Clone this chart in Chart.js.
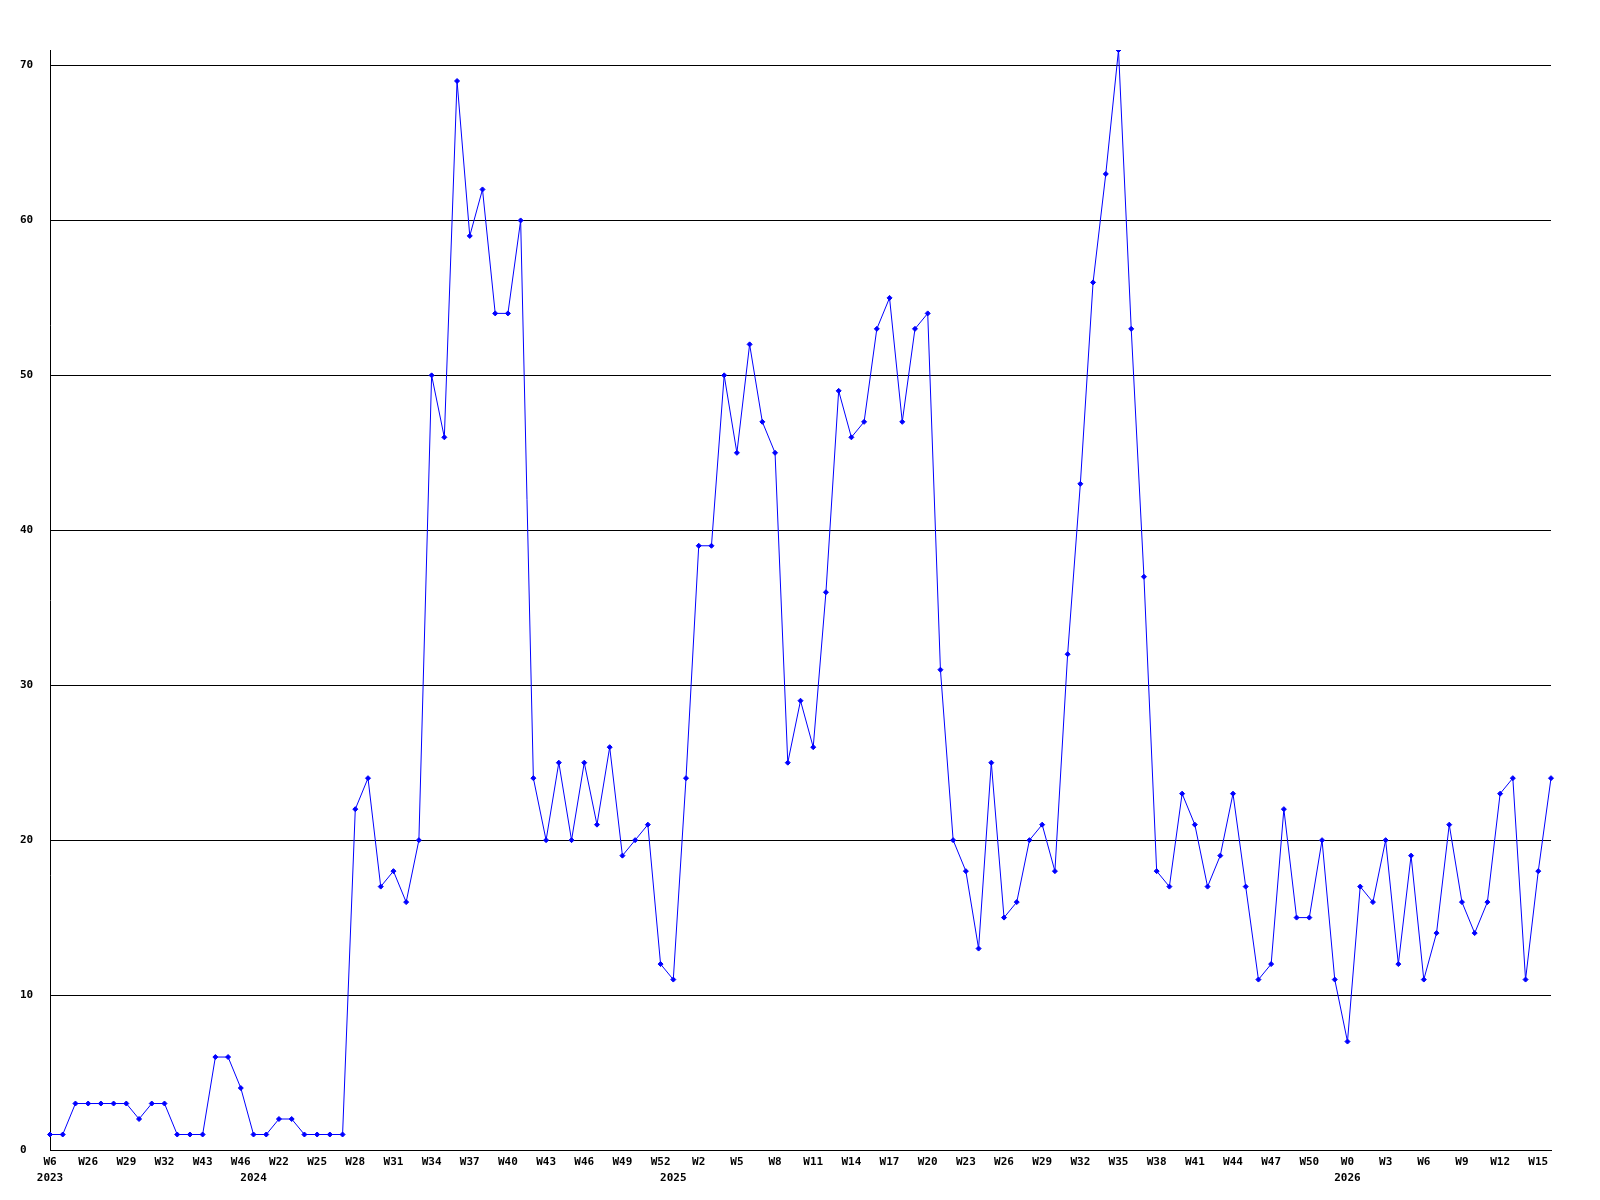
<!DOCTYPE html>
<html>
<head>
<meta charset="utf-8">
<script src="https://cdn.jsdelivr.net/npm/chart.js@4/dist/chart.umd.min.js"></script>
<style>
  html, body { margin: 0; padding: 0; background: #fff; }
  canvas { display: block; }
</style>
</head>
<body>
<canvas id="grafico" width="1600" height="1200"></canvas>
<script>
// valores semanais
const valores = [
  1, 1, 3, 3, 3, 3, 3, 2, 3, 3,
  1, 1, 1, 6, 6, 4, 1, 1, 2, 2,
  1, 1, 1, 1, 22, 24, 17, 18, 16, 20,
  50, 46, 69, 59, 62, 54, 54, 60, 24, 20,
  25, 20, 25, 21, 26, 19, 20, 21, 12, 11,
  24, 39, 39, 50, 45, 52, 47, 45, 25, 29,
  26, 36, 49, 46, 47, 53, 55, 47, 53, 54,
  31, 20, 18, 13, 25, 15, 16, 20, 21, 18,
  32, 43, 56, 63, 71, 53, 37, 18, 17, 23,
  21, 17, 19, 23, 17, 11, 12, 22, 15, 15,
  20, 11, 7, 17, 16, 20, 12, 19, 11, 14,
  21, 16, 14, 16, 23, 24, 11, 18, 24
];

// rótulos de semana (um a cada 3 pontos)
const semanas = [
  "W6", "W26", "W29", "W32", "W43", "W46", "W22", "W25", "W28", "W31",
  "W34", "W37", "W40", "W43", "W46", "W49", "W52", "W2", "W5", "W8",
  "W11", "W14", "W17", "W20", "W23", "W26", "W29", "W32", "W35", "W38",
  "W41", "W44", "W47", "W50", "W0", "W3", "W6", "W9", "W12", "W15"
];
const passoSemanas = 3;

// anos: índice do ponto onde começa cada ano
const anos = ["2023", "2024", "2025", "2026"];
const inicioAnos = [0, 16, 49, 102];

const yMax = 71;
const yPasso = 10;

// monta os rótulos do eixo x
const rotulos = valores.map(function (v, i) {
  const semana = i % passoSemanas === 0 ? (semanas[i / passoSemanas] || "") : "";
  const a = inicioAnos.indexOf(i);
  if (a >= 0) return [semana, anos[a]];
  return semana;
});

const fonte = { family: "'DejaVu Sans Mono', monospace", size: 11, weight: "bold", lineHeight: 1.45 };

const ctx = document.getElementById("grafico").getContext("2d");
new Chart(ctx, {
  type: "line",
  data: {
    labels: rotulos,
    datasets: [
      {
        data: valores,
        borderColor: "#0000ff",
        backgroundColor: "#0000ff",
        borderWidth: 1,
        pointStyle: "rectRot",
        pointRadius: 2.5,
        pointHoverRadius: 2.5,
        tension: 0,
      },
    ],
  },
  options: {
    responsive: false,
    animation: false,
    events: [],
    layout: { padding: { left: 20, right: 49, top: 50, bottom: 0 } },
    plugins: { legend: { display: false }, tooltip: { enabled: false } },
    scales: {
      x: {
        grid: { display: false, drawTicks: false },
        border: { display: true, color: "#000", width: 1 },
        ticks: {
          autoSkip: false,
          maxRotation: 0,
          minRotation: 0,
          padding: 4,
          color: "#000",
          font: fonte,
        },
        afterFit: function (s) { s.height = 50; },
      },
      y: {
        min: 0,
        max: yMax,
        grid: { color: "#000", lineWidth: 1, drawTicks: false },
        border: { display: true, color: "#000", width: 1 },
        ticks: {
          stepSize: yPasso,
          includeBounds: false,
          crossAlign: "far",
          color: "#000",
          font: fonte,
        },
        afterFit: function (s) { s.width = 30; },
      },
    },
  },
});
</script>
</body>
</html>
